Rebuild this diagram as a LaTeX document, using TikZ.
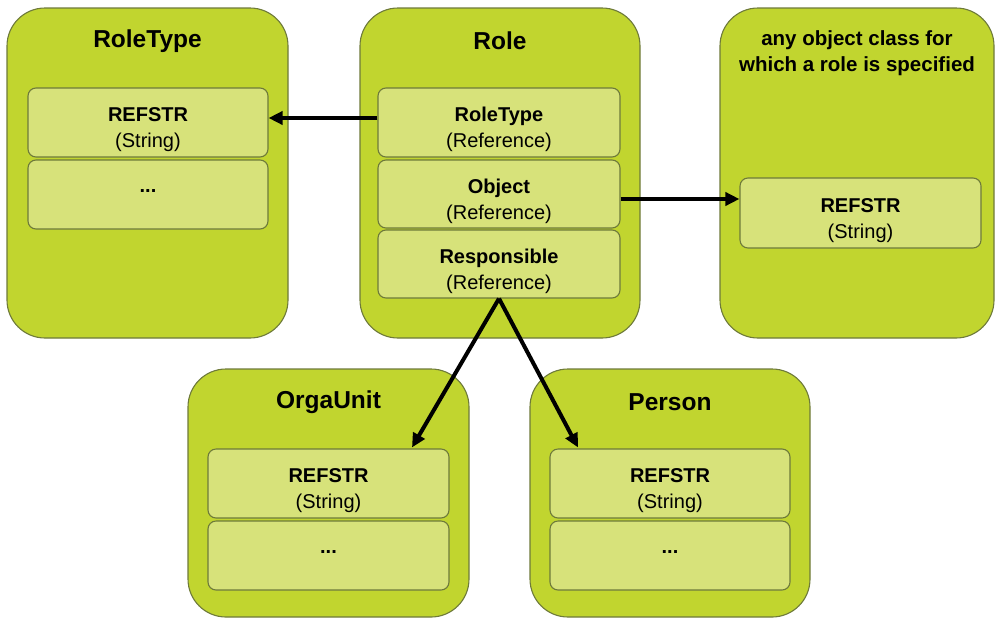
\documentclass[tikz,border=0pt]{standalone}
\usepackage{fontspec}
\setmainfont{Liberation Sans}
\usetikzlibrary{arrows.meta}
\definecolor{outerg}{HTML}{C1D52F}
\definecolor{innerg}{HTML}{D7E27A}
\definecolor{edgeg}{HTML}{6E7A3A}
\newcommand{\twoline}[2]{\raisebox{-12pt}[0pt][0pt]{\begin{tabular}{@{}c@{}}\textbf{#1}\\#2\end{tabular}}}
\newcommand{\dotsline}{\raisebox{6.5pt}{\textbf{...}}}
\tikzset{
  outerbox/.style={draw=edgeg, line width=1.1pt, fill=outerg, rounded corners=38pt, inner sep=0pt},
  innerbox/.style={draw=edgeg, line width=1.1pt, fill=innerg, rounded corners=8pt, inner sep=0pt,
    font=\fontsize{20}{26}\selectfont},
  titletext/.style={font=\fontsize{24.5}{28}\selectfont\bfseries, inner sep=0pt},
  subtitle/.style={font=\fontsize{20.5}{26}\selectfont\bfseries, inner sep=0pt, align=center},
  conn/.style={line width=4pt, -{Triangle[length=14pt,width=13pt]}}
}
\begin{document}
\begin{tikzpicture}[x=1pt,y=-1pt]
\useasboundingbox (0,0) rectangle (995,619);
% outer boxes
\node[outerbox, minimum width=281pt, minimum height=330pt] (rt) at (147.5,173) {};
\node[outerbox, minimum width=280pt, minimum height=330pt] (role) at (500,173) {};
\node[outerbox, minimum width=274pt, minimum height=330pt] (obj) at (857,173) {};
\node[outerbox, minimum width=281pt, minimum height=248pt] (ou) at (328.5,493) {};
\node[outerbox, minimum width=280pt, minimum height=248pt] (pe) at (670,493) {};
% titles
\node[titletext] (rtt) at (147.5,41) {RoleType};
\node[titletext] (rolet) at (500,41) {Role};
\node[subtitle] (objt) at (857,53) {any object class for\\which a role is specified};
\node[titletext] (out) at (328.5,402) {OrgaUnit};
\node[titletext] (pet) at (670,402) {Person};
% inner boxes
\node[innerbox, minimum width=240pt, minimum height=69pt] (rt1) at (148,122.5) {\twoline{REFSTR}{(String)}};
\node[innerbox, minimum width=240pt, minimum height=69pt] (rt2) at (148,194.5) {\dotsline};
\node[innerbox, minimum width=242pt, minimum height=69pt] (r1) at (499,122.5) {\twoline{RoleType}{(Reference)}};
\node[innerbox, minimum width=242pt, minimum height=68pt] (r2) at (499,194) {\twoline{Object}{(Reference)}};
\node[innerbox, minimum width=242pt, minimum height=68pt] (r3) at (499,264) {\twoline{Responsible}{(Reference)}};
\node[innerbox, minimum width=241pt, minimum height=70pt] (o1) at (860.5,213) {\twoline{REFSTR}{(String)}};
\node[innerbox, minimum width=241pt, minimum height=69pt] (ou1) at (328.5,483.5) {\twoline{REFSTR}{(String)}};
\node[innerbox, minimum width=241pt, minimum height=69pt] (ou2) at (328.5,555.5) {\dotsline};
\node[innerbox, minimum width=240pt, minimum height=69pt] (pe1) at (670,483.5) {\twoline{REFSTR}{(String)}};
\node[innerbox, minimum width=240pt, minimum height=69pt] (pe2) at (670,555.5) {\dotsline};
% connectors
\coordinate (rtstart) at ([yshift=4.5pt]r1.west);
\coordinate (objstart) at ([yshift=-5pt]r2.east);
\draw[conn] (rtstart) -- (rtstart -| rt1.east);
\draw[conn] (objstart) -- (objstart -| o1.west);
\coordinate (ouend) at ([xshift=83.5pt,yshift=1pt]ou1.north);
\coordinate (peend) at ([xshift=-92pt,yshift=1pt]pe1.north);
\draw[conn] (r3.south) -- (ouend);
\draw[conn] (r3.south) -- (peend);
\end{tikzpicture}
\end{document}
